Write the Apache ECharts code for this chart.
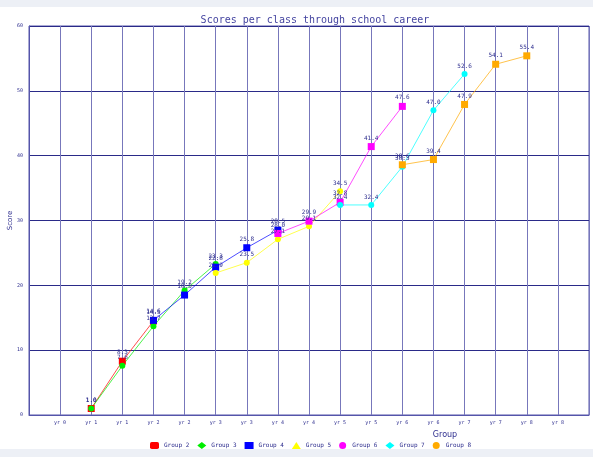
<!DOCTYPE html>
<html>
<head>
<meta charset="utf-8">
<script src="https://cdn.jsdelivr.net/npm/echarts@6/dist/echarts.min.js"></script>
<style>
  html, body { margin: 0; padding: 0; background: #edf0f6; }
  #chart { position: absolute; left: 0; top: 7px; width: 593px; height: 442px; background: #fff; }
</style>
</head>
<body>
<div id="chart"></div>
<script>
// x positions 0..18, labels only on 1..17
const xLabels = ['', 'yr 0', 'yr 1', 'yr 1', 'yr 2', 'yr 2', 'yr 3', 'yr 3', 'yr 4', 'yr 4',
                 'yr 5', 'yr 5', 'yr 6', 'yr 6', 'yr 7', 'yr 7', 'yr 8', 'yr 8', ''];
const yTicks = [0, 10, 20, 30, 40, 50, 60];

const groupNames = ['Group 2', 'Group 3', 'Group 4', 'Group 5', 'Group 6', 'Group 7', 'Group 8'];
const group2 = [null, null, 1.0, 8.3, 14.5];
const group3 = [null, null, 1.0, 7.6, 13.7, 19.2, 23.3];
const group4 = [null, null, null, null, 14.6, 18.5, 22.8, 25.8, 28.5];
const group5 = [null, null, null, null, null, null, 21.9, 23.5, 27.1, 29.1, 34.5];
const group6 = [null, null, null, null, null, null, null, null, 28.0, 29.9, 32.8, 41.4, 47.6];
const group7 = [null, null, null, null, null, null, null, null, null, null, 32.4, 32.4, 38.3, 47.0, 52.6];
const group8 = [null, null, null, null, null, null, null, null, null, null, null, null, 38.6, 39.4, 47.9, 54.1, 55.4];

const colors = ['#ff0000', '#00ee00', '#0000ff', '#ffff00', '#ff00ff', '#00ffff', '#ffaa00'];
const symbols = ['rect', 'circle', 'rect', 'circle', 'rect', 'circle', 'rect'];
const legendIcons = ['roundRect', 'diamond', 'rect', 'triangle', 'circle', 'diamond', 'circle'];

const navy = '#2f2f8f';
const mono = 'DejaVu Sans Mono';

const chart = echarts.init(document.getElementById('chart'));

function toPoints(arr) {
  const out = [];
  arr.forEach((v, i) => { if (v != null) out.push([i, v]); });
  return out;
}

const allGroups = [group2, group3, group4, group5, group6, group7, group8];

chart.setOption({
  animation: false,
  title: {
    text: 'Scores per class through school career',
    left: 310,
    textAlign: 'center',
    top: 3,
    textStyle: { fontFamily: mono, fontSize: 10, fontWeight: 'normal', color: '#4444a0' }
  },
  legend: {
    top: 435,
    left: 150,
    padding: 0,
    itemWidth: 9,
    itemHeight: 7,
    itemGap: 8,
    textStyle: { fontFamily: mono, fontSize: 6, color: navy },
    data: groupNames.map((n, i) => ({ name: n, icon: legendIcons[i] }))
  },
  grid: {
    left: 29, right: 4, top: 19, bottom: 34,
    outerBoundsMode: 'none',
    containLabel: false,
    show: true, borderColor: '#5555aa', borderWidth: 1
  },
  xAxis: {
    type: 'value',
    min: 0, max: 18, interval: 1,
    name: 'Group',
    nameLocation: 'middle',
    nameGap: 16,
    nameMoveOverlap: false,
    nameTextStyle: { fontFamily: 'DejaVu Sans', fontSize: 8, color: navy, padding: [0, 0, 0, 272] },
    axisLine: { lineStyle: { color: '#5555aa' } },
    axisTick: { show: false },
    axisLabel: {
      fontFamily: mono, fontSize: 5, color: navy, margin: 5,
      formatter: v => xLabels[v] || ''
    },
    splitLine: { show: true, lineStyle: { color: '#7777bb', width: 1 } }
  },
  yAxis: {
    type: 'value',
    min: 0, max: 60, interval: 10,
    name: 'Score',
    nameLocation: 'middle',
    nameGap: 15,
    nameMoveOverlap: false,
    nameTextStyle: { fontFamily: 'DejaVu Sans', fontSize: 7, color: navy },
    axisLine: { show: true, lineStyle: { color: '#5555aa' } },
    axisTick: { show: false },
    axisLabel: {
      fontFamily: mono, fontSize: 5, color: navy, margin: 6,
      formatter: v => (yTicks.indexOf(v) >= 0 ? String(v) : '')
    },
    splitLine: { show: true, lineStyle: { color: '#2a2a88', width: 1 } }
  },
  series: allGroups.map((g, i) => ({
    name: groupNames[i],
    type: 'line',
    data: toPoints(g),
    symbol: symbols[i],
    symbolSize: symbols[i] === 'rect' ? 7 : 6,
    itemStyle: { color: colors[i] },
    lineStyle: { color: colors[i], width: 1, opacity: 0.7 },
    label: {
      show: true,
      position: 'top',
      distance: 2,
      fontFamily: mono,
      fontSize: 6,
      color: navy,
      formatter: p => p.value[1].toFixed(1)
    }
  }))
});
</script>
</body>
</html>
